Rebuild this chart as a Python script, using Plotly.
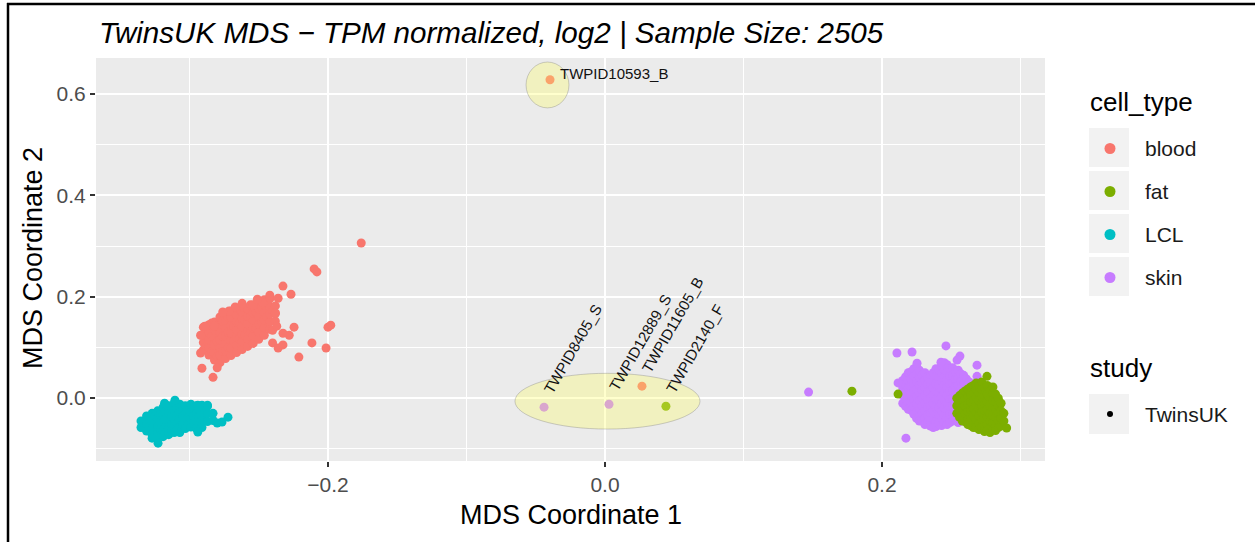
import plotly.graph_objects as go

# ---------------- data ----------------
# Each cluster is stored as columns: (x, [y values at that x])
blood_cols = [
    (-0.290, [0.095, 0.110, 0.125, 0.140]),
    (-0.288, [0.102, 0.132]),
    (-0.286, [0.085, 0.100, 0.115, 0.130, 0.145]),
    (-0.284, [0.092, 0.122, 0.148]),
    (-0.282, [0.075, 0.090, 0.105, 0.120, 0.135, 0.150]),
    (-0.280, [0.082, 0.112, 0.142]),
    (-0.278, [0.070, 0.085, 0.100, 0.115, 0.130, 0.145, 0.160]),
    (-0.276, [0.092, 0.122, 0.152]),
    (-0.274, [0.078, 0.093, 0.108, 0.123, 0.138, 0.153, 0.166]),
    (-0.272, [0.100, 0.130, 0.160]),
    (-0.270, [0.084, 0.099, 0.114, 0.129, 0.144, 0.159, 0.172]),
    (-0.268, [0.112, 0.142, 0.170]),
    (-0.266, [0.090, 0.105, 0.120, 0.135, 0.150, 0.165, 0.176]),
    (-0.264, [0.118, 0.148, 0.174]),
    (-0.262, [0.096, 0.111, 0.126, 0.141, 0.156, 0.170, 0.180]),
    (-0.260, [0.124, 0.154, 0.178]),
    (-0.258, [0.102, 0.117, 0.132, 0.147, 0.162, 0.176]),
    (-0.256, [0.130, 0.160, 0.184]),
    (-0.254, [0.108, 0.123, 0.138, 0.153, 0.168, 0.182]),
    (-0.252, [0.138, 0.170]),
    (-0.250, [0.116, 0.131, 0.146, 0.161, 0.176, 0.188]),
    (-0.248, [0.150, 0.180]),
    (-0.246, [0.124, 0.139, 0.154, 0.169, 0.184, 0.194]),
    (-0.244, [0.160, 0.190]),
    (-0.242, [0.136, 0.151, 0.166, 0.181, 0.196]),
    (-0.240, [0.172]),
    (-0.238, [0.152, 0.167, 0.182]),
]
blood_extra = [
    (-0.176, 0.306), (-0.210, 0.255), (-0.208, 0.249), (-0.2325, 0.221),
    (-0.2267, 0.205), (-0.2245, 0.140), (-0.200, 0.140), (-0.198, 0.144),
    (-0.2014, 0.099), (-0.2116, 0.109), (-0.221, 0.081), (-0.240, 0.134),
    (-0.237, 0.142), (-0.228, 0.124), (-0.2325, 0.128), (-0.240, 0.109),
    (-0.236, 0.099), (-0.2325, 0.105), (-0.291, 0.059), (-0.283, 0.041),
    (-0.292, 0.089), (-0.292, 0.124), (-0.289, 0.142), (-0.282, 0.142),
    (-0.2715, 0.172), (-0.267, 0.180), (-0.247, 0.188), (-0.242, 0.203),
    (-0.236, 0.197), (-0.238, 0.168), (-0.254, 0.184),
    (-0.276, 0.170), (-0.262, 0.187), (-0.251, 0.195), (-0.280, 0.060),
    (-0.0397, 0.628), (0.0267, 0.0237),
]

lcl_cols = [
    (-0.335, [-0.045, -0.058]),
    (-0.333, [-0.052]),
    (-0.331, [-0.035, -0.050, -0.065]),
    (-0.329, [-0.042, -0.057]),
    (-0.327, [-0.030, -0.045, -0.060, -0.072]),
    (-0.325, [-0.035, -0.052, -0.066]),
    (-0.323, [-0.025, -0.040, -0.055, -0.070, -0.080]),
    (-0.321, [-0.030, -0.047, -0.062]),
    (-0.319, [-0.018, -0.033, -0.048, -0.063, -0.076]),
    (-0.317, [-0.024, -0.040, -0.055, -0.068]),
    (-0.315, [-0.015, -0.030, -0.045, -0.060, -0.072]),
    (-0.313, [-0.020, -0.036, -0.052, -0.064]),
    (-0.311, [-0.010, -0.025, -0.040, -0.055, -0.068]),
    (-0.309, [-0.018, -0.034, -0.050, -0.062]),
    (-0.307, [-0.012, -0.027, -0.042, -0.057, -0.068]),
    (-0.305, [-0.020, -0.036, -0.052]),
    (-0.303, [-0.015, -0.030, -0.045, -0.060]),
    (-0.301, [-0.022, -0.038, -0.052]),
    (-0.299, [-0.012, -0.027, -0.042, -0.057]),
    (-0.297, [-0.020, -0.036, -0.050]),
    (-0.295, [-0.015, -0.030, -0.045, -0.060]),
    (-0.293, [-0.022, -0.037, -0.052]),
    (-0.291, [-0.014, -0.029, -0.044, -0.058]),
    (-0.289, [-0.024, -0.039]),
    (-0.287, [-0.016, -0.031, -0.046]),
    (-0.283, [-0.030, -0.044]),
]
lcl_extra = [
    (-0.2722, -0.0375), (-0.2765, -0.047), (-0.280, -0.049), (-0.3105, -0.004),
    (-0.318, -0.010), (-0.3227, -0.0888), (-0.327, -0.079), (-0.294, -0.067),
    (-0.294, -0.014), (-0.287, -0.014),
]

skin_cols = [
    (0.215, [0.035, 0.020, 0.005, -0.010]),
    (0.217, [0.042, 0.027, 0.012, -0.003, -0.016]),
    (0.219, [0.050, 0.035, 0.020, 0.005, -0.010, -0.022]),
    (0.221, [0.052, 0.037, 0.022, 0.007, -0.008, -0.024]),
    (0.223, [0.058, 0.043, 0.028, 0.013, -0.002, -0.017, -0.032]),
    (0.225, [0.062, 0.048, 0.033, 0.018, 0.003, -0.012, -0.027, -0.040]),
    (0.227, [0.055, 0.040, 0.025, 0.010, -0.005, -0.020, -0.035, -0.045]),
    (0.229, [0.045, 0.030, 0.015, 0.000, -0.015, -0.030, -0.045]),
    (0.231, [0.050, 0.035, 0.020, 0.005, -0.010, -0.025, -0.040, -0.052]),
    (0.233, [0.042, 0.027, 0.012, -0.003, -0.018, -0.033, -0.048]),
    (0.235, [0.045, 0.030, 0.015, 0.000, -0.015, -0.030, -0.045, -0.055]),
    (0.237, [0.050, 0.035, 0.020, 0.005, -0.010, -0.025, -0.040, -0.058]),
    (0.239, [0.058, 0.043, 0.028, 0.013, -0.002, -0.017, -0.032, -0.047, -0.056]),
    (0.241, [0.056, 0.041, 0.026, 0.011, -0.004, -0.019, -0.034, -0.049]),
    (0.243, [0.064, 0.049, 0.034, 0.019, 0.004, -0.011, -0.026, -0.041, -0.054]),
    (0.245, [0.070, 0.056, 0.041, 0.026, 0.011, -0.004, -0.019, -0.034, -0.048]),
    (0.247, [0.066, 0.051, 0.036, 0.021, 0.006, -0.009, -0.024, -0.039, -0.052]),
    (0.249, [0.058, 0.043, 0.028, 0.013, -0.002, -0.017, -0.032, -0.048]),
    (0.251, [0.060, 0.045, 0.030, 0.015, 0.000, -0.015, -0.030, -0.045]),
    (0.253, [0.052, 0.037, 0.022, 0.007, -0.008, -0.023, -0.040]),
    (0.255, [0.055, 0.040, 0.025, 0.010, -0.005, -0.020, -0.035, -0.048]),
    (0.257, [0.048, 0.033, 0.018, 0.003, -0.012, -0.027, -0.042]),
    (0.259, [0.045, 0.030, 0.015, 0.000, -0.015, -0.030, -0.045]),
    (0.261, [0.038, 0.023, 0.008, -0.007, -0.022, -0.038]),
    (0.263, [0.032, 0.017, 0.002, -0.013, -0.028, -0.045]),
]
skin_extra = [
    (0.2108, 0.089), (0.2217, 0.091), (0.2462, 0.103), (0.2563, 0.083),
    (0.2686, 0.065), (0.2686, 0.043), (0.2173, -0.079), (0.2116, 0.030),
    (0.2253, 0.069), (0.2426, 0.071), (0.2542, 0.075), (0.147, 0.012),
    (-0.044, -0.0178), (0.0029, -0.012),
]

fat_cols = [
    (0.254, [0.000, -0.015, -0.030]),
    (0.256, [0.005, -0.010, -0.025, -0.038]),
    (0.258, [0.010, -0.005, -0.020, -0.035, -0.045]),
    (0.260, [0.014, -0.001, -0.016, -0.031, -0.046]),
    (0.262, [0.018, 0.003, -0.012, -0.027, -0.042, -0.052]),
    (0.264, [0.022, 0.007, -0.008, -0.023, -0.038, -0.054]),
    (0.266, [0.025, 0.010, -0.005, -0.020, -0.035, -0.050, -0.058]),
    (0.268, [0.030, 0.017, 0.002, -0.013, -0.028, -0.043, -0.058]),
    (0.270, [0.025, 0.010, -0.005, -0.020, -0.035, -0.050, -0.062]),
    (0.272, [0.032, 0.017, 0.002, -0.013, -0.028, -0.043, -0.058]),
    (0.274, [0.020, 0.005, -0.010, -0.025, -0.040, -0.055, -0.066]),
    (0.276, [0.025, 0.008, -0.007, -0.022, -0.037, -0.052, -0.064]),
    (0.278, [0.015, 0.000, -0.015, -0.030, -0.045, -0.060, -0.068]),
    (0.280, [0.010, -0.005, -0.020, -0.035, -0.050, -0.062]),
    (0.282, [0.008, -0.007, -0.022, -0.037, -0.052, -0.064]),
    (0.284, [0.000, -0.015, -0.030, -0.045, -0.058]),
    (0.286, [-0.010, -0.025, -0.040, -0.055]),
    (0.288, [-0.030, -0.045]),
]
fat_extra = [
    (0.2758, 0.043), (0.2116, 0.008), (0.1783, 0.0138), (0.290, -0.059),
    (0.2801, 0.022), (0.044, -0.016),
]

cell_types = ["blood", "fat", "LCL", "skin"]
cell_colors = {"blood": "#F8766D", "fat": "#7CAE00", "LCL": "#00BFC4", "skin": "#C77CFF"}

label_names = ["TWPID10593_B", "TWPID8405_S", "TWPID12889_S", "TWPID11605_B", "TWPID2140_F"]
label_x = [-0.0397, -0.044, 0.0029, 0.0267, 0.044]
label_y = [0.628, -0.0178, -0.012, 0.0237, -0.016]
label_angle = [0, 60, 60, 60, 60]

x_ticks = [-0.2, 0.0, 0.2]
x_ticktext = ["\u22120.2", "0.0", "0.2"]
y_ticks = [0.0, 0.2, 0.4, 0.6]
y_ticktext = ["0.0", "0.2", "0.4", "0.6"]


def expand(cols, extra):
    xs, ys = [], []
    for x, yl in cols:
        for y in yl:
            xs.append(x)
            ys.append(y)
    for x, y in extra:
        xs.append(x)
        ys.append(y)
    return xs, ys


series = {
    "blood": expand(blood_cols, blood_extra),
    "LCL": expand(lcl_cols, lcl_extra),
    "skin": expand(skin_cols, skin_extra),
    "fat": expand(fat_cols, fat_extra),
}

FONT = "Liberation Sans, Arial, sans-serif"

# plot area in pixels
L, R, T, B = 96, 1045, 58, 461
W, H = 1255, 542


def px(xp):
    return (xp - L) / (R - L)


def py(yp):
    return (B - yp) / (B - T)


fig = go.Figure()
for name in ["blood", "LCL", "skin", "fat"]:
    xs, ys = series[name]
    fig.add_trace(go.Scatter(
        x=xs, y=ys, mode="markers", name=name,
        marker=dict(size=9, color=cell_colors[name], line=dict(width=0)),
        showlegend=False, hoverinfo="x+y+name",
    ))

shapes = []
annotations = []

# highlight ellipses (drawn above points, semi-transparent)
shapes.append(dict(type="circle", xref="x", yref="y", x0=-0.065, x1=0.0686, y0=-0.061, y1=0.049,
                   fillcolor="rgba(255,255,100,0.32)", line=dict(color="rgba(120,120,120,0.35)", width=1),
                   layer="above"))
shapes.append(dict(type="circle", xref="x", yref="y", x0=-0.057, x1=-0.026, y0=0.5726, y1=0.663,
                   fillcolor="rgba(255,255,100,0.32)", line=dict(color="rgba(120,120,120,0.35)", width=1),
                   layer="above"))

# sample labels
for name, lx, ly, ang in zip(label_names, label_x, label_y, label_angle):
    if ang == 0:
        annotations.append(dict(x=lx, y=ly, xref="x", yref="y", text=name, showarrow=False,
                                xanchor="left", yanchor="middle", xshift=8, yshift=6,
                                font=dict(family=FONT, size=15, color="#111111")))
    else:
        annotations.append(dict(x=lx, y=ly, xref="x", yref="y", text=name, showarrow=False,
                                textangle=-ang, xanchor="left", yanchor="bottom",
                                xshift=-6, yshift=8,
                                font=dict(family=FONT, size=15, color="#111111")))

# title
annotations.append(dict(x=px(97), y=py(32), xref="paper", yref="paper", xanchor="left", yanchor="middle",
                        text="TwinsUK MDS \u2212 TPM normalized, log2 | Sample Size: 2505", showarrow=False,
                        font=dict(family=FONT, size=29.6, color="black", style="italic")))
# axis titles
annotations.append(dict(x=0.5, y=py(515), xref="paper", yref="paper", xanchor="center", yanchor="middle",
                        text="MDS Coordinate 1", showarrow=False,
                        font=dict(family=FONT, size=27, color="black")))
annotations.append(dict(x=px(33), y=py(258), xref="paper", yref="paper", xanchor="center", yanchor="middle",
                        text="MDS Coordinate 2", showarrow=False, textangle=-90,
                        font=dict(family=FONT, size=27, color="black")))

# legend (ggplot style keys)
annotations.append(dict(x=px(1088), y=py(102), xref="paper", yref="paper", xanchor="left", yanchor="middle",
                        text="cell_type", showarrow=False, font=dict(family=FONT, size=26, color="black")))
key_tops = [128, 171, 214, 257]
for ct, top in zip(cell_types, key_tops):
    shapes.append(dict(type="rect", xref="paper", yref="paper", x0=px(1089), x1=px(1129),
                       y0=py(top + 39), y1=py(top), fillcolor="#f2f2f2", line=dict(width=0), layer="below"))
    cy = top + 20.5
    shapes.append(dict(type="circle", xref="paper", yref="paper", xsizemode="pixel", ysizemode="pixel",
                       xanchor=px(1110), yanchor=py(cy), x0=-5.5, x1=5.5, y0=-5.5, y1=5.5,
                       fillcolor=cell_colors[ct], line=dict(width=0)))
    annotations.append(dict(x=px(1143), y=py(cy), xref="paper", yref="paper", xanchor="left", yanchor="middle",
                            text=ct, showarrow=False, font=dict(family=FONT, size=21, color="#1a1a1a")))

annotations.append(dict(x=px(1088), y=py(368), xref="paper", yref="paper", xanchor="left", yanchor="middle",
                        text="study", showarrow=False, font=dict(family=FONT, size=26, color="black")))
shapes.append(dict(type="rect", xref="paper", yref="paper", x0=px(1089), x1=px(1129),
                   y0=py(434), y1=py(394), fillcolor="#f2f2f2", line=dict(width=0), layer="below"))
shapes.append(dict(type="circle", xref="paper", yref="paper", xsizemode="pixel", ysizemode="pixel",
                   xanchor=px(1110), yanchor=py(414), x0=-3, x1=3, y0=-3, y1=3,
                   fillcolor="black", line=dict(width=0)))
annotations.append(dict(x=px(1143), y=py(414), xref="paper", yref="paper", xanchor="left", yanchor="middle",
                        text="TwinsUK", showarrow=False, font=dict(family=FONT, size=21, color="#1a1a1a")))

# outer frame (top and left black lines of the screenshot)
shapes.append(dict(type="line", xref="paper", yref="paper", x0=px(7), x1=px(1256), y0=py(4), y1=py(4),
                   line=dict(color="black", width=2.5)))
shapes.append(dict(type="line", xref="paper", yref="paper", x0=px(8), x1=px(8), y0=py(3), y1=py(543),
                   line=dict(color="black", width=2.5)))

fig.update_layout(
    width=W, height=H,
    margin=dict(l=L, r=W - R, t=T, b=H - B, pad=0),
    paper_bgcolor="white", plot_bgcolor="#ebebeb",
    showlegend=False,
    font=dict(family=FONT),
    shapes=shapes, annotations=annotations,
    xaxis=dict(range=[-0.3675, 0.3177], tickmode="array", tickvals=x_ticks, ticktext=x_ticktext,
               showgrid=True, gridcolor="white", gridwidth=2, zeroline=False, showline=False,
               ticks="outside", ticklen=5, tickwidth=1.5, tickcolor="#333333",
               tickfont=dict(family=FONT, size=21, color="#4d4d4d"),
               minor=dict(tickmode="array", tickvals=[-0.3, -0.1, 0.1, 0.3], showgrid=True,
                          gridcolor="white", gridwidth=1, ticks="")),
    yaxis=dict(range=[-0.124, 0.671], tickmode="array", tickvals=y_ticks, ticktext=y_ticktext,
               showgrid=True, gridcolor="white", gridwidth=2, zeroline=False, showline=False,
               ticks="outside", ticklen=5, tickwidth=1.5, tickcolor="#333333",
               tickfont=dict(family=FONT, size=21, color="#4d4d4d"),
               minor=dict(tickmode="array", tickvals=[-0.1, 0.1, 0.3, 0.5], showgrid=True,
                          gridcolor="white", gridwidth=1, ticks="")),
)

fig.write_html("out.html")
